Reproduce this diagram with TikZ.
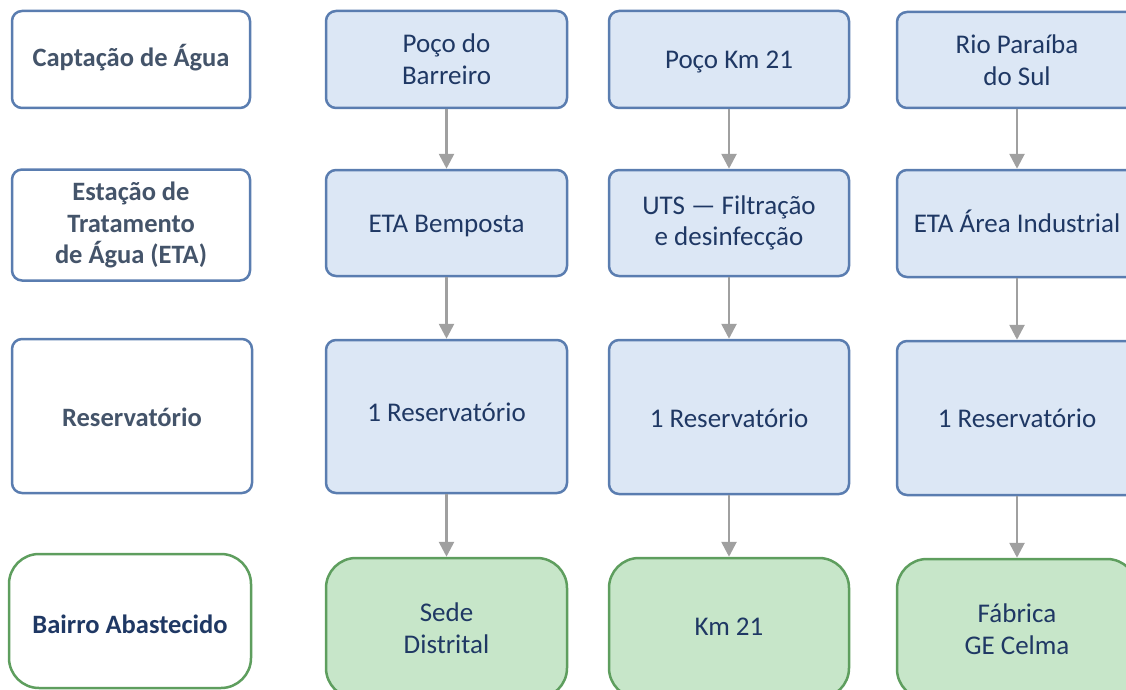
\documentclass[tikz,border=0pt]{standalone}
\usepackage{fontspec}
\setmainfont{Carlito}
\usetikzlibrary{arrows.meta}
\definecolor{bordblue}{HTML}{5A7DB0}
\definecolor{fillblue}{HTML}{DCE7F5}
\definecolor{bordgreen}{HTML}{5E9E5E}
\definecolor{fillgreen}{HTML}{C7E6C9}
\definecolor{navy}{HTML}{1F3864}
\definecolor{slate}{HTML}{44546A}
\definecolor{arrgray}{HTML}{A0A0A0}
\tikzset{
  base/.style={rectangle, rounded corners=10pt, line width=2.5pt, inner sep=0pt, align=center,
    font=\fontsize{27}{31.7}\selectfont, text=navy},
  labelbox/.style={base, draw=bordblue, fill=white, font=\fontsize{26.5}{31.7}\selectfont\bfseries, text=slate},
  endlabel/.style={base, draw=bordgreen, fill=white, rounded corners=30pt, font=\fontsize{26.5}{31.7}\selectfont\bfseries, text=navy},
  stepbox/.style={base, draw=bordblue, fill=fillblue},
  endbox/.style={base, draw=bordgreen, fill=fillgreen, rounded corners=30pt},
  flow/.style={draw=arrgray, line width=2.7pt, -{Triangle[length=15pt,width=15pt]}},
  one/.style={text height=#1pt, text depth=2pt},
}
\begin{document}
\begin{tikzpicture}[x=1pt,y=-1pt]
\useasboundingbox (0,0) rectangle (1126,690);
% left labels
\node[labelbox, one=17, minimum width=238pt, minimum height=97pt] (cap) at (131,59.5) {Captação de Água};
\node[labelbox, minimum width=238pt, minimum height=111pt] (eta) at (131,225) {Estação de\\Tratamento\\de Água (ETA)};
\node[labelbox, one=22, minimum width=240pt, minimum height=154pt] (res) at (132,416) {Reservatório};
\node[endlabel, one=26, minimum width=242pt, minimum height=134pt] (bai) at (130,621) {Bairro Abastecido};
% column 2
\node[stepbox, minimum width=241pt, minimum height=97pt] (p1) at (446.5,59.5) {Poço do\\Barreiro};
\node[stepbox, one=20, minimum width=241pt, minimum height=106pt] (e1) at (446.5,223) {ETA Bemposta};
\node[stepbox, one=11, minimum width=241pt, minimum height=153pt] (r1) at (446.5,416.5) {1 Reservatório};
\node[endbox, minimum width=241pt, minimum height=140pt] (g1) at (446.5,628) {Sede\\Distrital};
% column 3
\node[stepbox, one=20, minimum width=240pt, minimum height=97pt] (p2) at (729,59.5) {Poço Km 21};
\node[stepbox, minimum width=240pt, minimum height=106pt] (e2) at (729,223) {UTS — Filtração\\e desinfecção};
\node[stepbox, one=22, minimum width=240pt, minimum height=154pt] (r2) at (729,417) {1 Reservatório};
\node[endbox, one=16, minimum width=240pt, minimum height=140pt] (g2) at (729,628) {Km 21};
% column 4
\node[stepbox, minimum width=240pt, minimum height=96pt] (p3) at (1017,60) {Rio Paraíba\\do Sul};
\node[stepbox, one=20, minimum width=240pt, minimum height=107pt] (e3) at (1017,223.5) {ETA Área Industrial};
\node[stepbox, one=20, minimum width=240pt, minimum height=154pt] (r3) at (1017,418) {1 Reservatório};
\node[endbox, minimum width=240pt, minimum height=140pt] (g3) at (1017,629) {Fábrica\\GE Celma};
% arrows
\foreach \c in {1,2,3}{
  \draw[flow] (p\c.south) -- (e\c.north);
  \draw[flow] (e\c.south) -- (r\c.north);
  \draw[flow] (r\c.south) -- (g\c.north);
}
\end{tikzpicture}
\end{document}
